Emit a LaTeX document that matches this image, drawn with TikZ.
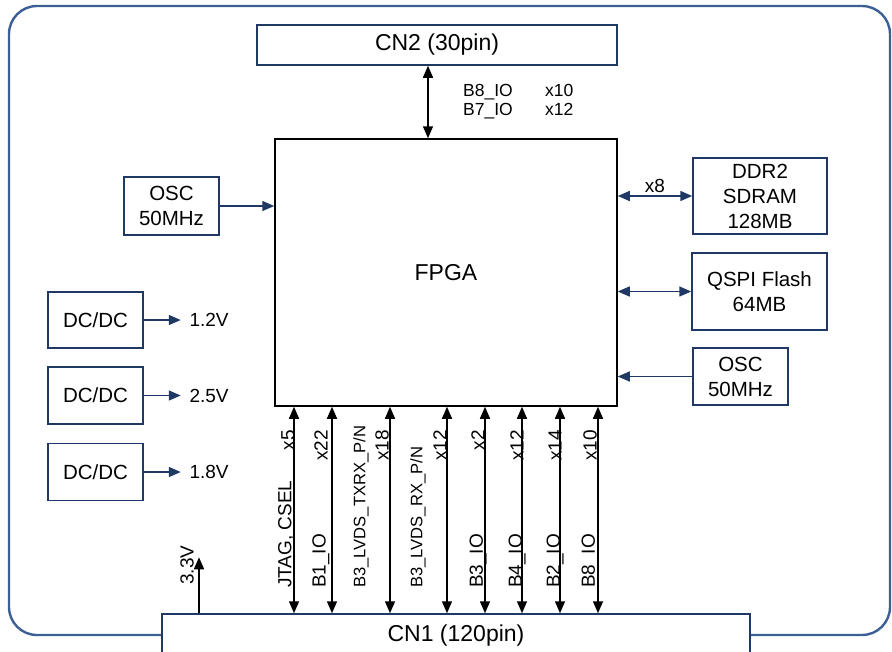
\documentclass[tikz,border=0pt]{standalone}
\usepackage{fontspec}
\setmainfont{Liberation Sans}
\usetikzlibrary{positioning,calc,arrows.meta}
\definecolor{navy}{RGB}{31,56,100}
\definecolor{framec}{RGB}{60,95,150}

\begin{document}
\begin{tikzpicture}[x=1pt,y=-1pt]
\tikzset{
  frame/.style={draw=framec, line width=2.4pt, rounded corners=28pt},
  blk/.style={draw=navy, fill=white, line width=1.5pt, inner sep=0pt, align=center, font=\fontsize{20.5}{25}\selectfont},
  big/.style={font=\fontsize{23}{27}\selectfont},
  lbl/.style={inner sep=0pt, font=\fontsize{19}{22}\selectfont},
  pin/.style={inner sep=0pt, anchor=base west, font=\fontsize{17.5}{20}\selectfont},
  bus/.style={{Triangle[length=12pt,width=10pt]}-{Triangle[length=12pt,width=10pt]}, line width=1.5pt},
  feed/.style={-{Triangle[length=12pt,width=10pt]}, draw=navy, line width=1.5pt}
}
\useasboundingbox (0,0) rectangle (892,651);
\draw[frame] (9,6) rectangle (890,635);
% main blocks
\node[blk, big, draw=black, minimum width=342pt, minimum height=267pt] (fpga) at (446,272.5) {FPGA};
\node[blk, big, minimum width=360pt, minimum height=40pt] (cn2) at (437,45) {CN2 (30pin)};
\node[blk, big, minimum width=588pt, minimum height=44pt] (cn1) at (456,636) {CN1 (120pin)};
\node[blk, minimum width=95pt, minimum height=58pt] (oscl) at (171.5,206) {OSC\\50MHz};
\node[blk, minimum width=134pt, minimum height=76pt] (ddr) at (760,196) {DDR2\\SDRAM\\128MB};
\node[blk, minimum width=135pt, minimum height=77pt] (qspi) at (759.5,291.5) {QSPI Flash\\64MB};
\node[blk, minimum width=95pt, minimum height=57pt] (oscr) at (740.5,376.5) {OSC\\50MHz};
\node[blk, minimum width=95pt, minimum height=56pt] (dc1) at (95.5,320) {DC/DC};
\node[blk, minimum width=95pt, minimum height=57pt] (dc2) at (95.5,395.5) {DC/DC};
\node[blk, minimum width=95pt, minimum height=57pt] (dc3) at (95.5,472) {DC/DC};

% CN2 link
\draw[bus] (cn2.south -| 428,0) -- (fpga.north -| 428,0);
\node[pin] (b8n) at (463,96) {B8\_IO};
\node[pin] (b7n) at (463,115.5) {B7\_IO};
\node[pin] (b8c) at (545,96) {x10};
\node[pin] (b7c) at (545,115.5) {x12};

% memories and clocks
\draw[bus, draw=navy] (fpga.east |- ddr.west) -- (ddr.west) node[midway, above=3pt, lbl] (ddrc) {x8};
\draw[bus, draw=navy] (fpga.east |- qspi.west) -- (qspi.west);
\draw[feed] (oscr.west) -- (fpga.east |- oscr.west);
\draw[feed] (oscl.east) -- (fpga.west |- oscl.east);

% power
\draw[feed] (dc1.east) -- ++(37,0) node[lbl, right=8pt] (v12) {1.2V};
\draw[feed] (dc2.east) -- ++(37,0) node[lbl, right=8pt] (v25) {2.5V};
\draw[feed] (dc3.east) -- ++(37,0) node[lbl, right=8pt] (v18) {1.8V};
\draw[-{Triangle[length=12pt,width=10pt]}, line width=1.5pt] (cn1.north -| 199,0) -- ++(0,-56) coordinate (p33);
\node[lbl, rotate=90, anchor=west] (v33) at (187,585) {3.3V};

% CN1 buses
\foreach \x/\nx/\fs/\name/\cx/\cnt [count=\i] in {
  294/286/19/{JTAG, CSEL}/288/x5, 332/321/19/{B1\_IO}/321/x22,
  390/361/16.6/{B3\_LVDS\_TXRX\_P/N}/382/x18, 447/418/16.6/{B3\_LVDS\_RX\_P/N}/440/x12,
  485/478/19/{B3\_IO}/478/x2, 522/517/19/{B4\_IO}/517/x12,
  560/555/19/{B2\_IO}/555/x14, 598/590/19/{B8\_IO}/590/x10}{
  \draw[bus] (fpga.south -| \x,0) -- (cn1.north -| \x,0);
  \node[lbl, rotate=90, anchor=west, font=\fontsize{\fs}{22}\selectfont] (bn\i) at (\nx,588) {\name};
  \node[lbl, rotate=90, anchor=east] (bc\i) at (\cx,430) {\cnt};
}
\end{tikzpicture}
\end{document}
